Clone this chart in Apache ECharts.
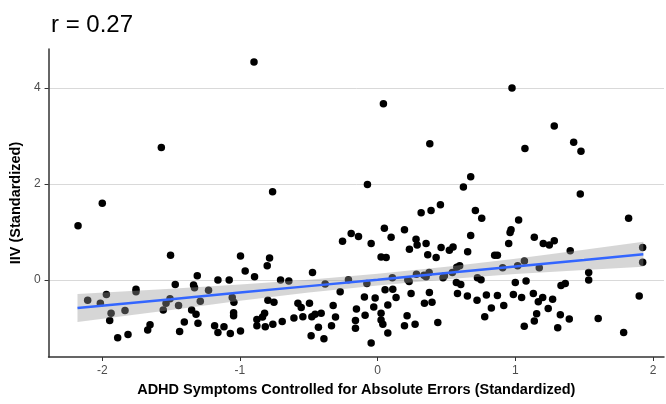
<!DOCTYPE html>
<html>
<head>
<meta charset="utf-8">
<script src="https://cdn.jsdelivr.net/npm/echarts@6/dist/echarts.min.js"></script>
<style>
html, body { margin: 0; padding: 0; background: #fff; }
#main { width: 666px; height: 404px; }
</style>
</head>
<body>
<div id="main"></div>
<script>
// scatter points
var ptX = [-1.571, -0.898, 0.042, 0.379, -0.763, -0.074, 0.976, 1.283, 1.070, 1.424,
    1.477, 0.676, 0.623, 1.472, -2.176, -2.000, -1.504, -0.996, -0.962, 1.823,
    -1.310, -1.470, -1.337, -1.330, -2.106, -2.014, -1.970, -1.755, -1.755, -1.936,
    -1.946, -1.835, -1.888, -1.813, -1.653, -1.670, -1.557, -1.537, -1.508, -1.446,
    -1.404, -1.438, -1.351, -1.319, -1.305, -1.288, -1.160, -1.078, -1.228, -1.056,
    -1.044, -1.046, -1.046, -1.184, -1.116, -1.160, -1.070, -0.996,
    -0.894, -0.785, -0.802, -0.705, -0.645, -0.473, -0.797, -0.753, -0.821, -0.836,
    -0.877, -0.877, -0.816, -0.761, -0.693, -0.608, -0.579, -0.555, -0.543, -0.495,
    -0.478, -0.454, -0.410, -0.430, -0.483, -0.390, -0.272, -0.212, -0.381, -0.323,
    -0.306, -0.335, -0.255, -0.192, -0.139, -0.047, -0.096, -0.154, -0.161, -0.161,
    -0.091, -0.047, -0.028, -0.018, -0.078,
    0.025, 0.025, 0.038, 0.074, 0.074, 0.049, 0.098, 0.025, 0.062, 0.054,
    0.110, 0.134, 0.195, 0.279, 0.287, 0.231, 0.352, 0.364, 0.425, 0.461,
    0.521, 0.548, 0.316, 0.388, 0.456, 0.243, 0.219, 0.352, 0.376, 0.340,
    0.395, 0.214, 0.195, 0.272, 0.437, 0.485, 0.107, 0.229, 0.282, 0.337,
    0.374, 0.475, 0.543, 0.596, 0.575, 0.572, 0.604, 0.725, 0.751, 0.710,
    0.756, 0.676, 0.654, 0.850, 0.870, 0.580, 0.652, 0.722, 0.790, 0.826,
    0.870, 0.916, 0.778, 0.908,
    1.024, 0.969, 0.962, 0.952, 1.138, 1.203, 1.247, 1.283, 1.399, 1.925,
    1.925, 1.066, 1.017, 1.174, 1.533, 1.533, 1.000, 1.078, 1.332, 1.363,
    0.986, 1.046, 1.131, 1.199, 1.271, 1.167, 1.239, 1.155, 1.138, 1.327,
    1.392, 1.602, 1.065, 1.308, 1.900, 1.787];
var ptY = [2.76, 4.54, 3.67, 2.84, 1.84, 1.99, 4.00, 3.21, 2.74, 2.87,
    2.68, 2.15, 1.94, 1.79, 1.13, 1.60, 0.52, 0.50, 0.19, 1.29,
    0.09, -0.09, -0.10, -0.16, -0.42, -0.48, -0.30, -0.19, -0.24, -0.69,
    -0.84, -0.63, -1.20, -1.13, -0.93, -1.04, -0.62, -0.48, -0.39, -0.53,
    -0.87, -1.07, -0.62, -0.71, -0.90, -0.44, 0.00, 0.00, -0.21, -0.36,
    -0.46, -0.68, -0.74, -0.95, -0.97, -1.09, -1.11, -1.06,
    0.07, 0.46, 0.30, 0.00, -0.02, 0.16, -0.42, -0.46, -0.69, -0.77,
    -0.82, -0.95, -0.97, -0.92, -0.86, -0.79, -0.48, -0.57, -0.76, -0.48,
    -0.76, -0.71, -0.69, -0.98, -1.16, -1.22, -0.24, 0.01, -0.08, -0.53,
    -0.77, -0.95, 0.81, 0.97, 0.91, 0.76, -0.35, -0.60, -0.84, -1.00,
    -0.73, -1.31, -0.56, -0.37, -0.07,
    -0.69, -0.83, -0.92, -1.10, -0.52, 1.08, 0.89, 0.48, 0.47, -0.20,
    -0.19, -0.36, 1.05, 0.85, 0.73, 0.64, 0.76, 0.53, 0.47, 0.68,
    0.62, 0.69, 1.40, 1.45, 1.57, -0.28, 0.01, 0.07, -0.26, -0.48,
    -0.46, -0.74, -0.95, -0.92, -0.88, 0.09, 0.05, -0.03, 0.12, 0.10,
    0.16, 0.05, 0.16, 0.30, 0.27, -0.05, -0.09, 0.05, 0.01, 1.45,
    1.29, 0.93, 0.59, 0.52, 0.52, -0.28, -0.33, -0.42, -0.31, -0.58,
    -0.32, -0.53, -0.76, 0.26,
    1.25, 1.05, 0.99, 0.76, 0.89, 0.76, 0.73, 0.82, 0.61, 0.68,
    0.37, 0.40, 0.30, 0.26, 0.16, 0.00, -0.05, -0.02, -0.11, -0.07,
    -0.30, -0.36, -0.28, -0.36, -0.40, -0.45, -0.59, -0.70, -0.85, -0.72,
    -0.81, -0.80, -0.96, -0.99, -0.33, -1.09];

// fitted line and its confidence band
var fitX = [-2.18, -1.5, -1.0, -0.5, 0, 0.5, 1.0, 1.5, 1.93];
var fitY = [-0.58, -0.40, -0.26, -0.125, 0.01, 0.15, 0.285, 0.42, 0.54];
var bandLo = [-0.87, -0.62, -0.43, -0.26, -0.11, 0.02, 0.125, 0.21, 0.28];
var bandHi = [-0.29, -0.18, -0.09, 0.01, 0.13, 0.28, 0.445, 0.63, 0.80];

var xTicks = [-2, -1, 0, 1, 2];
var yTicks = [0, 2, 4];

var points = [];
for (var i = 0; i < ptX.length; i++) {
    points.push([ptX[i], ptY[i]]);
}
var fitLine = [];
var band = [];
for (var j = 0; j < fitX.length; j++) {
    fitLine.push([fitX[j], fitY[j]]);
    band.push([fitX[j], bandLo[j], bandHi[j]]);
}

var myChart = echarts.init(document.getElementById('main'));
var font = '"Liberation Sans", Arial, sans-serif';

var option = {
    animation: false,
    backgroundColor: '#fff',
    title: {
        text: 'r = 0.27',
        left: 46,
        top: 8,
        textStyle: { fontFamily: font, fontSize: 24, fontWeight: 'normal', color: '#000' }
    },
    grid: { left: 48, right: 2, top: 49, bottom: 47 },
    xAxis: {
        type: 'value',
        min: -2.39,
        max: 2.08,
        name: 'ADHD Symptoms Controlled for Absolute Errors (Standardized)',
        nameLocation: 'middle',
        nameGap: 25,
        nameTextStyle: { fontFamily: font, fontSize: 14.5, fontWeight: 'bold', color: '#000' },
        axisLine: { onZero: false, lineStyle: { color: '#333', width: 1.5 } },
        axisTick: { show: true, length: 4, customValues: xTicks, lineStyle: { color: '#333' } },
        axisLabel: { customValues: xTicks, margin: 8, fontFamily: font, fontSize: 12, color: '#4d4d4d' },
        splitLine: { show: false }
    },
    yAxis: {
        type: 'value',
        min: -1.6,
        max: 4.81,
        name: 'IIV (Standardized)',
        nameLocation: 'middle',
        nameGap: 22,
        nameTextStyle: { fontFamily: font, fontSize: 14.5, fontWeight: 'bold', color: '#000' },
        axisLine: { show: true, onZero: false, lineStyle: { color: '#333', width: 1.5 } },
        axisTick: { show: true, length: 4, customValues: yTicks, lineStyle: { color: '#333' } },
        axisLabel: { customValues: yTicks, margin: 8, fontFamily: font, fontSize: 12, color: '#4d4d4d' },
        splitLine: { show: true, lineStyle: { color: '#d9d9d9', width: 1 } }
    },
    series: [
        {
            type: 'scatter',
            data: points,
            symbolSize: 7.5,
            itemStyle: { color: '#000', opacity: 1 },
            z: 2
        },
        {
            type: 'custom',
            data: band,
            z: 3,
            renderItem: function (params, api) {
                if (params.dataIndex !== 0) return;
                var pts = [];
                for (var k = 0; k < band.length; k++) {
                    pts.push(api.coord([band[k][0], band[k][2]]));
                }
                for (var m = band.length - 1; m >= 0; m--) {
                    pts.push(api.coord([band[m][0], band[m][1]]));
                }
                return {
                    type: 'polygon',
                    shape: { points: pts },
                    style: { fill: 'rgba(153,153,153,0.4)' }
                };
            }
        },
        {
            type: 'line',
            data: fitLine,
            showSymbol: false,
            lineStyle: { color: '#3366ff', width: 2.5 },
            z: 4
        }
    ]
};
myChart.setOption(option);
</script>
</body>
</html>
